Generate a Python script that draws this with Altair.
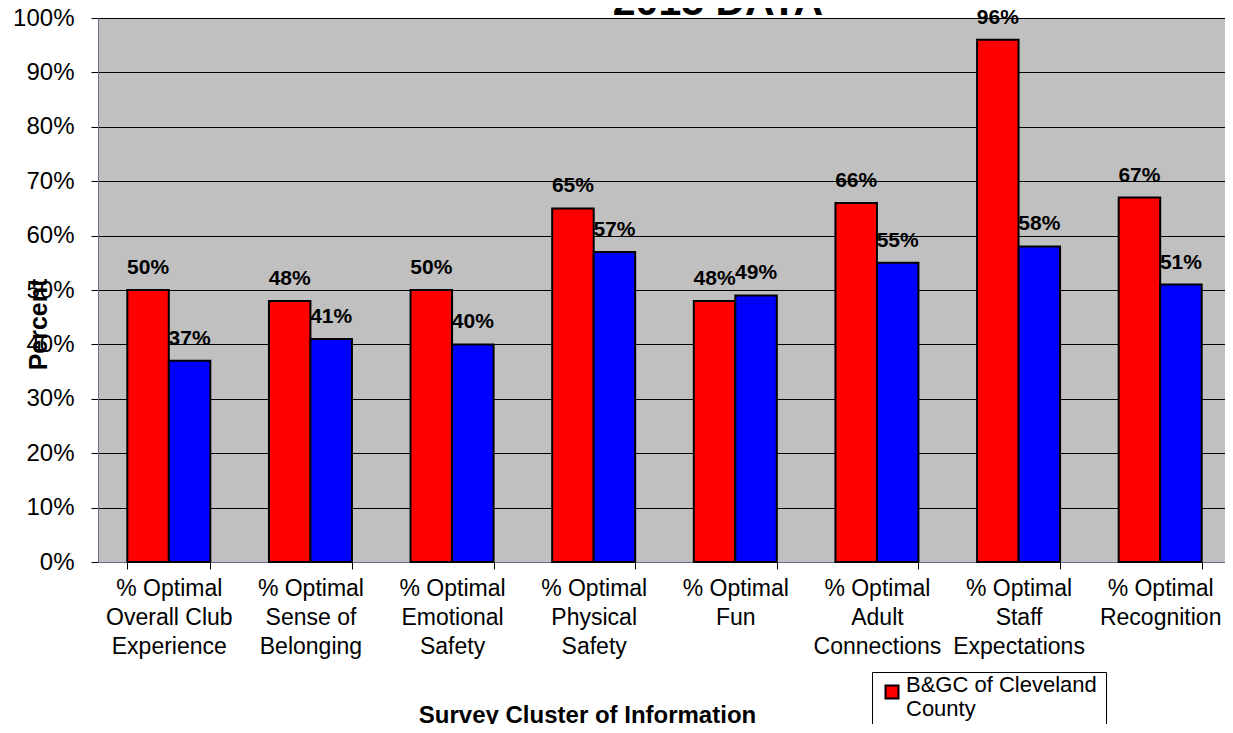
import altair as alt
import pandas as pd

categories = [
    "% Optimal\nOverall Club\nExperience",
    "% Optimal\nSense of\nBelonging",
    "% Optimal\nEmotional\nSafety",
    "% Optimal\nPhysical\nSafety",
    "% Optimal\nFun",
    "% Optimal\nAdult\nConnections",
    "% Optimal\nStaff\nExpectations",
    "% Optimal\nRecognition",
]
series = ["B&GC of Cleveland County", "National"]
cleveland = [50, 48, 50, 65, 48, 66, 96, 67]
national = [37, 41, 40, 57, 49, 55, 58, 51]
y_ticks = [0, 10, 20, 30, 40, 50, 60, 70, 80, 90, 100]
chart_title = ["2015 DATA"]

rows = []
for i, c in enumerate(categories):
    rows.append({"cat": c, "series": series[0], "v": cleveland[i]})
    rows.append({"cat": c, "series": series[1], "v": national[i]})
df = pd.DataFrame(rows)

FONT = "Liberation Sans"

x = alt.X(
    "cat:N",
    sort=categories,
    scale=alt.Scale(paddingInner=0.414, paddingOuter=0.207),
    axis=alt.Axis(
        title="Survey Cluster of Information",
        labelExpr="split(datum.label, '\\n')",
        labelAngle=0,
        labelFontSize=23,
        labelLineHeight=29,
        labelColor="black",
        labelFont=FONT,
        labelPadding=8,
        labelOverlap=False,
        labelLimit=400,
        labelBaseline="top",
        tickBand="extent",
        tickSize=7,
        tickColor="#000000",
        domainColor="#6a6a90",
        titleFontSize=24,
        titleFontWeight="bold",
        titleFont=FONT,
        titleColor="black",
        titleX=489,
        titleY=160,
        titleAlign="center",
        titleBaseline="alphabetic",
    ),
)
xoff = alt.XOffset("series:N", sort=series, scale=alt.Scale(paddingInner=0, paddingOuter=0))
y = alt.Y(
    "v:Q",
    scale=alt.Scale(domain=[0, 100], nice=False),
    axis=alt.Axis(
        values=y_ticks,
        labelExpr="datum.value + '%'",
        labelFontSize=24,
        labelFont=FONT,
        labelColor="black",
        labelPadding=17,
        tickSize=7,
        tickColor="#000000",
        domainColor="#6a6a90",
        grid=True,
        gridColor="#000000",
        gridWidth=1,
        title="Percent",
        titleFontSize=25,
        titleFontWeight="bold",
        titleFont=FONT,
        titleColor="black",
        titleAngle=270,
        titleX=-60,
        titleY=306,
        titleAlign="center",
        titleBaseline="middle",
    ),
)
color = alt.Color(
    "series:N",
    scale=alt.Scale(domain=series, range=["#FF0000", "#0000FF"]),
    legend=alt.Legend(
        values=[series[0]],
        title=None,
        orient="none",
        legendX=774,
        legendY=654,
        padding=9,
        strokeColor="#000000",
        fillColor="white",
        cornerRadius=0,
        symbolType="square",
        symbolSize=169,
        symbolStrokeColor="#000000",
        symbolStrokeWidth=2,
        labelFontSize=22,
        labelFont=FONT,
        labelColor="black",
        labelBaseline="alphabetic",
        labelOffset=3,
        labelLimit=400,
        labelExpr="split(replace(datum.label, ' County', '\\nCounty'), '\\n')",
    ),
)

base = alt.Chart(df)
bars = base.mark_bar(stroke="black", strokeWidth=2).encode(x=x, xOffset=xoff, y=y, color=color)
labels = base.transform_calculate(label="datum.v + '%'").mark_text(
    dy=-22, fontSize=21, fontWeight="bold", font=FONT, color="black", baseline="middle"
).encode(x=x, xOffset=xoff, y=y, text="label:N")

title = alt.Chart(pd.DataFrame({"t": chart_title})).mark_text(
    fontSize=41, fontWeight="bold", font=FONT, color="black", baseline="alphabetic", align="center"
).encode(text="t:N", x=alt.value(620), y=alt.value(-3))

chart = alt.layer(bars, labels, title).properties(
    width=1133,
    height=544,
    autosize=alt.AutoSizeParams(type="none"),
    padding={"left": 90, "top": 10, "right": -6, "bottom": 162},
).configure(font=FONT).configure_view(fill="#C0C0C0", stroke="#c8c8f0")

chart.save("out.html", embed_options={"renderer": "svg", "actions": False})
